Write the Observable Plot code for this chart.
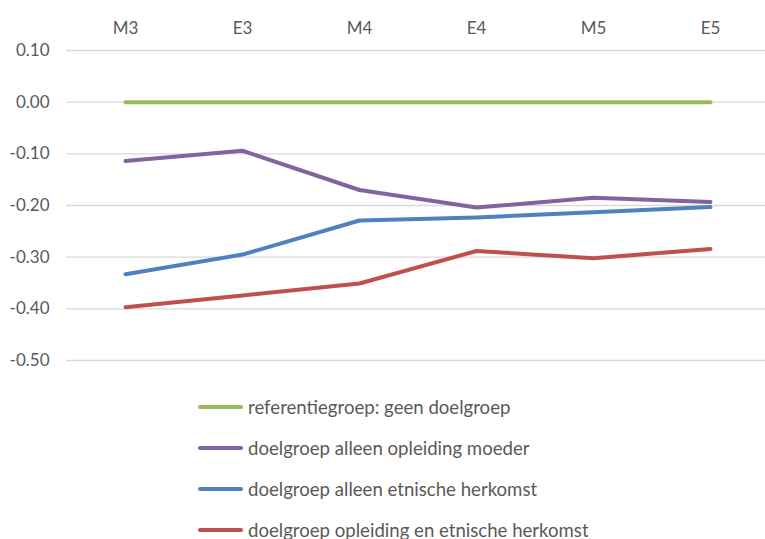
<!DOCTYPE html>
<html><head><meta charset="utf-8">
<script src="https://cdn.jsdelivr.net/npm/d3@7"></script>
<script src="https://cdn.jsdelivr.net/npm/@observablehq/plot@0.6"></script>
<style>
body{margin:0;background:#fff;font-family:Lato,"Open Sans",sans-serif;color:#595959}
#legend{padding-left:198px}
.row{height:41px;display:flex;align-items:center;font-size:18.6px;color:#595959}
.sw{display:inline-block;width:45px;height:4px;border-radius:2px;margin-right:5px}
</style>
</head><body><div id="chart"></div><div id="legend"></div><script>
const periods = ["M3","E3","M4","E4","M5","E5"];
const seriesNames = [
  "referentiegroep: geen doelgroep",
  "doelgroep alleen opleiding moeder",
  "doelgroep alleen etnische herkomst",
  "doelgroep opleiding en etnische herkomst"
];
const referentie = [0, 0, 0, 0, 0, 0];
const opleidingMoeder = [-0.114, -0.094, -0.170, -0.204, -0.185, -0.193];
const etnischeHerkomst = [-0.333, -0.295, -0.229, -0.223, -0.213, -0.203];
const opleidingEnEtnisch = [-0.397, -0.374, -0.351, -0.288, -0.302, -0.284];
const yTicks = [0.1, 0, -0.1, -0.2, -0.3, -0.4, -0.5];
const colors = ["#9BBB59", "#8064A2", "#4F81BD", "#C0504D"];

const allSeries = [referentie, opleidingMoeder, etnischeHerkomst, opleidingEnEtnisch];
const data = allSeries.flatMap((vals, si) =>
  vals.map((v, i) => ({period: periods[i], value: v, series: seriesNames[si]})));

const chart = Plot.plot({
  width: 765,
  height: 386,
  marginLeft: 66,
  marginRight: 0,
  marginTop: 50,
  marginBottom: 26,
  style: {fontFamily: "Lato, 'Open Sans', sans-serif", fontSize: "17px", color: "#595959", background: "#fff"},
  x: {type: "point", domain: periods, range: [124, 711], padding: 0, axis: "top", tickSize: 0, tickPadding: 17, label: null},
  y: {domain: [-0.5, 0.1], ticks: yTicks, tickSize: 0, tickPadding: 17, label: null, tickFormat: d => d.toFixed(2)},
  color: {domain: seriesNames, range: colors},
  marks: [
    Plot.ruleY(yTicks, {stroke: "#D9D9D9", strokeWidth: 1.3}),
    Plot.line(data, {x: "period", y: "value", z: "series", stroke: "series", strokeWidth: 4, strokeLinecap: "round", strokeLinejoin: "round"})
  ]
});
document.getElementById("chart").appendChild(chart);

const legend = d3.select("#legend");
seriesNames.forEach((name, i) => {
  const row = legend.append("div").attr("class", "row");
  row.append("span").attr("class", "sw").style("background", colors[i]);
  row.append("span").text(name);
});
</script></body></html>
